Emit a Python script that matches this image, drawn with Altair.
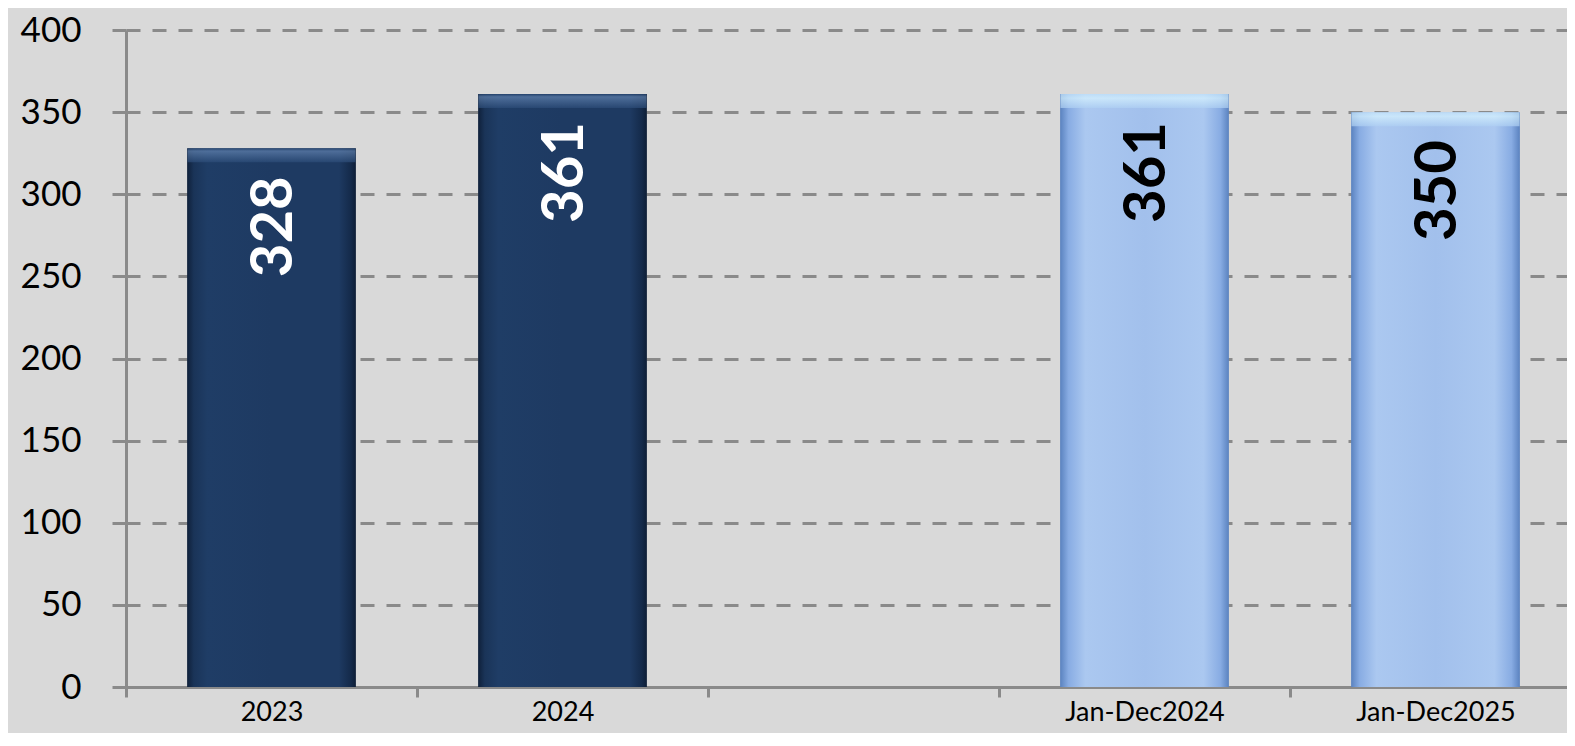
import altair as alt
import pandas as pd

# ---- data ----
categories = ["2023", "2024", "Jan-Dec2024", "Jan-Dec2025"]
values = [328, 361, 361, 350]
kinds = ["year", "year", "period", "period"]
axis_domain = ["2023", "2024", " ", "Jan-Dec2024", "Jan-Dec2025"]
y_ticks = [0, 50, 100, 150, 200, 250, 300, 350, 400]

df = pd.DataFrame({"category": categories, "value": values, "kind": kinds})

GRAY = "#8a8a8a"

dark_grad = {
    "gradient": "linear", "x1": 0, "x2": 1, "y1": 0, "y2": 0,
    "stops": [
        {"offset": 0.0, "color": "#0f203a"},
        {"offset": 0.04, "color": "#1a3458"},
        {"offset": 0.12, "color": "#1f3d66"},
        {"offset": 0.5, "color": "#1e3a62"},
        {"offset": 0.9, "color": "#1e3a62"},
        {"offset": 0.97, "color": "#142a4a"},
        {"offset": 1.0, "color": "#0e1e36"},
    ],
}
light_grad = {
    "gradient": "linear", "x1": 0, "x2": 1, "y1": 0, "y2": 0,
    "stops": [
        {"offset": 0.0, "color": "#5a82bf"},
        {"offset": 0.05, "color": "#88ace3"},
        {"offset": 0.15, "color": "#abc8f0"},
        {"offset": 0.5, "color": "#a2c0ec"},
        {"offset": 0.85, "color": "#abc8f0"},
        {"offset": 0.95, "color": "#88ace3"},
        {"offset": 1.0, "color": "#5a82bf"},
    ],
}
dark_top = {
    "gradient": "linear", "x1": 0, "x2": 0, "y1": 0, "y2": 1,
    "stops": [
        {"offset": 0.0, "color": "#27456f"},
        {"offset": 0.2, "color": "#6384b1"},
        {"offset": 1.0, "color": "#2c4c78"},
    ],
}
light_top = {
    "gradient": "linear", "x1": 0, "x2": 0, "y1": 0, "y2": 1,
    "stops": [
        {"offset": 0.0, "color": "#c6e6fb"},
        {"offset": 0.3, "color": "#d8f4ff"},
        {"offset": 1.0, "color": "#afd0f3"},
    ],
}

is_year = alt.datum.kind == "year"

x_enc = alt.X(
    "category:N",
    scale=alt.Scale(domain=axis_domain, range=[0, 1455], paddingInner=0, paddingOuter=0),
    axis=alt.Axis(
        title=None, labelAngle=0, tickBand="extent",
        domainColor=GRAY, domainWidth=3, tickColor=GRAY, tickWidth=3, tickSize=10,
        labelFont="Lato", labelFontSize=27, labelColor="black", labelPadding=2,
        grid=False,
    ),
)
y_enc = alt.Y(
    "value:Q",
    scale=alt.Scale(domain=[0, 400], nice=False),
    axis=alt.Axis(
        title=None, values=y_ticks, grid=True, gridDash=[14, 12], gridColor=GRAY, gridWidth=3,
        domainColor=GRAY, domainWidth=3, tickColor=GRAY, tickWidth=3, tickSize=14,
        labelFont="Lato", labelFontSize=35, labelColor="black", labelPadding=31,
    ),
)

base = alt.Chart(df)

bars = base.mark_bar(width=alt.RelativeBandSize(0.58)).encode(
    x=x_enc,
    y=y_enc,
    color=alt.when(is_year).then(alt.value(dark_grad)).otherwise(alt.value(light_grad)),
)

tops = base.mark_tick(orient="horizontal", size=168, thickness=14, yOffset=7).encode(
    x=alt.X("category:N"),
    y=alt.Y("value:Q"),
    color=alt.when(is_year).then(alt.value(dark_top)).otherwise(alt.value(light_top)),
)

labels = base.mark_text(
    angle=270, align="right", baseline="middle", dx=-28, dy=3,
    font="Lato", fontWeight="bold", fontSize=58,
).encode(
    x=alt.X("category:N"),
    y=alt.Y("value:Q"),
    text=alt.Text("value:Q"),
    color=alt.when(is_year).then(alt.value("white")).otherwise(alt.value("black")),
)

chart = (
    alt.layer(bars, tops, labels)
    .properties(
        width=1441, height=657,
        background="#d9d9d9",
        autosize=alt.AutoSizeParams(type="none"),
        padding={"left": 118, "top": 22, "right": 0, "bottom": 46},
    )
    .configure_view(stroke=None)
)

chart.save("out.html", embed_options={"renderer": "svg", "actions": False})
